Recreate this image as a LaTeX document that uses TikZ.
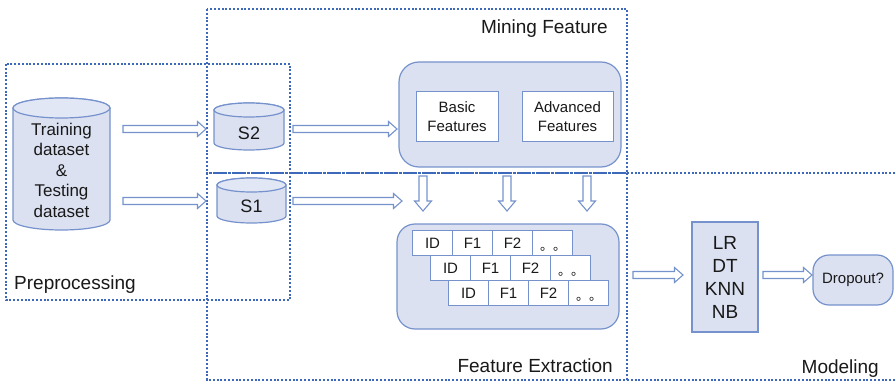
\documentclass[tikz,border=0pt]{standalone}
\usepackage{fontspec}
\setmainfont{Liberation Sans}
\newfontfamily\cjk{Noto Sans CJK SC}
\usetikzlibrary{calc}
\definecolor{dotblue}{RGB}{62,104,186}
\definecolor{boxblue}{RGB}{118,146,204}
\definecolor{boxfill}{RGB}{219,225,241}
\definecolor{topfill}{RGB}{226,231,245}
\definecolor{txt}{RGB}{25,25,25}
\tikzset{
  region/.style={draw=dotblue, line width=2.2pt, dash pattern=on 2pt off 1.8pt},
  softbox/.style={draw=boxblue, fill=boxfill, line width=1.2pt},
  whitebox/.style={draw=boxblue, fill=white, line width=1pt},
  cylstyle/.style={draw=boxblue, fill=boxfill, line width=1.2pt},
  blockarrow/.style={draw=boxblue, fill=white, line width=1.1pt, line join=miter},
  lbl/.style={text=txt, font=\fontsize{19}{23}\selectfont, inner sep=0pt},
  cell/.style={whitebox, minimum width=40pt, minimum height=25pt, inner sep=0pt, anchor=north west, text=txt, font=\fontsize{15}{18}\selectfont},
}
\newcommand{\drawcyl}[5]{%
  \pgfmathsetmacro{\rx}{(#3-#1)/2}%
  \pgfmathsetmacro{\cx}{(#1+#3)/2}%
  \draw[cylstyle] (#1,#2+#5) -- (#1,#4-#5) arc[start angle=180,end angle=360,x radius=\rx pt,y radius=#5 pt] -- (#3,#2+#5) arc[start angle=0,end angle=180,x radius=\rx pt,y radius=#5 pt] -- cycle;
  \draw[cylstyle, fill=topfill] (\cx,#2+#5) ellipse[x radius=\rx pt,y radius=#5 pt];
}
\newcommand{\harrow}[2]{\draw[blockarrow] let \p1=(#1), \p2=(#2) in
  (\x1,\y1+3.5pt) -- (\x2-8.5pt,\y1+3.5pt) -- (\x2-8.5pt,\y1+7.5pt) -- (\x2,\y1) -- (\x2-8.5pt,\y1-7.5pt) -- (\x2-8.5pt,\y1-3.5pt) -- (\x1,\y1-3.5pt) -- cycle;}
\newcommand{\varrow}[2]{\draw[blockarrow] let \p1=(#1), \p2=(#2) in
  (\x1-4pt,\y1) -- (\x1-4pt,\y2+10pt) -- (\x1-8.5pt,\y2+10pt) -- (\x1,\y2) -- (\x1+8.5pt,\y2+10pt) -- (\x1+4pt,\y2+10pt) -- (\x1+4pt,\y1) -- cycle;}
\begin{document}
\begin{tikzpicture}[x=1pt,y=-1pt]
\useasboundingbox (0,0) rectangle (896,382);
\fill[white] (0,0) rectangle (896,382);

% dotted regions
\draw[region] (6,64) rectangle (290,300);
\draw[region] (207,9) rectangle (627,173);
\draw[region] (207,173) rectangle (627,380);
\draw[region] (627,173) -- (897,173);
\draw[region] (627,380) -- (897,380);

% region labels
\node[lbl, anchor=base east] (lmine) at (608,34) {Mining Feature};
\node[lbl, anchor=base west] (lpre) at (14,289) {Preprocessing};
\node[lbl, anchor=base east] (lfe) at (613,372) {Feature Extraction};
\node[lbl, anchor=base east] (lmod) at (879,373) {Modeling};

% cylinders
\drawcyl{13}{98}{110}{230}{10}
\node[text=txt, align=center, font=\fontsize{17}{20.5}\selectfont, inner sep=0pt] (train) at (61.5,170) {Training\\dataset\\\&\\Testing\\dataset};
\drawcyl{214}{103}{284}{150}{7}
\node[text=txt, font=\fontsize{18}{20}\selectfont, inner sep=0pt] (s2) at (249,133) {S2};
\drawcyl{217}{178}{286}{223}{7}
\node[text=txt, font=\fontsize{18}{20}\selectfont, inner sep=0pt] (s1) at (251.5,206) {S1};

% mining feature box
\node[softbox, rounded corners=20pt, minimum width=222pt, minimum height=105pt, inner sep=0pt] (mine) at (510,114.5) {};
\node[whitebox, minimum width=82pt, minimum height=50pt, align=center, text=txt, font=\fontsize{15}{19}\selectfont, inner sep=0pt] (basic) at (457,117) {Basic\\Features};
\node[whitebox, minimum width=91pt, minimum height=50pt, align=center, text=txt, font=\fontsize{15}{19}\selectfont, inner sep=0pt] (adv) at (567.5,117) {Advanced\\Features};

% feature extraction box
\node[softbox, rounded corners=18pt, minimum width=222pt, minimum height=105pt, inner sep=0pt] (fe) at (508,276.5) {};
\foreach \r/\x/\y in {1/412/230, 2/430/255, 3/448/280} {
  \node[cell] (id\r) at (\x,\y) {ID};
  \node[cell] (fa\r) at (\x+40,\y) {F1};
  \node[cell] (fb\r) at (\x+80,\y) {F2};
  \node[cell] (dd\r) at (\x+120,\y) {};
  \node[text=txt, font=\cjk\fontsize{13}{13}\selectfont, inner sep=0pt, anchor=base] (dt\r) at (\x+141,\y+20) {。。};
}

% modeling
\node[softbox, minimum width=66pt, minimum height=110pt, align=center, text=txt, font=\fontsize{19}{23}\selectfont, inner sep=0pt] (models) at (725,277) {LR\\DT\\KNN\\NB};
\node[softbox, rounded corners=16pt, minimum width=80pt, minimum height=50pt, text=txt, font=\fontsize{15}{18}\selectfont, inner sep=0pt] (drop) at (853,280) {Dropout?};

% connector coordinates
\coordinate (a1s) at (123,129); \coordinate (a1e) at (206,129);
\coordinate (a2s) at (123,201); \coordinate (a2e) at (206,201);
\coordinate (a3s) at (293,129); \coordinate (a3e) at (397,129);
\coordinate (a4s) at (293,201); \coordinate (a4e) at (402,201);
\coordinate (a5s) at (633,275); \coordinate (a5e) at (683,275);
\coordinate (a6s) at (763,275); \coordinate (a6e) at (812,275);
\coordinate (d1s) at (423,176); \coordinate (d1e) at (423,211);
\coordinate (d2s) at (507,176); \coordinate (d2e) at (507,211);
\coordinate (d3s) at (587,176); \coordinate (d3e) at (587,211);

\harrow{a1s}{a1e}
\harrow{a2s}{a2e}
\harrow{a3s}{a3e}
\harrow{a4s}{a4e}
\harrow{a5s}{a5e}
\harrow{a6s}{a6e}
\varrow{d1s}{d1e}
\varrow{d2s}{d2e}
\varrow{d3s}{d3e}
\end{tikzpicture}
\end{document}
